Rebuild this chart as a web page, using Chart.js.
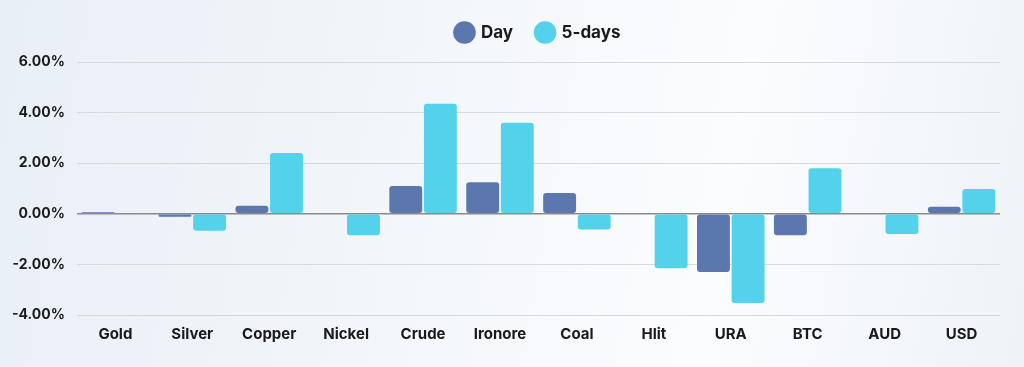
<!DOCTYPE html>
<html>
<head>
<meta charset="utf-8">
<script src="https://cdn.jsdelivr.net/npm/chart.js@4"></script>
<style>
  html, body { margin: 0; padding: 0; }
  body {
    width: 1024px; height: 367px; overflow: hidden;
    background: linear-gradient(100deg, #e8eff6 0%, #f4f7fb 45%, #fbfcfe 70%, #eef3f8 100%);
  }
  #wrap { position: relative; width: 1024px; height: 367px; }
</style>
</head>
<body>
<div id="wrap"><canvas id="commodityChart"></canvas></div>
<script>
const categories = ['Gold', 'Silver', 'Copper', 'Nickel', 'Crude', 'Ironore', 'Coal', 'Hlit', 'URA', 'BTC', 'AUD', 'USD'];
const dayValues = [0.06, -0.12, 0.32, 0, 1.1, 1.25, 0.82, 0, -2.3, -0.85, 0, 0.28];
const fiveDayValues = [0, -0.67, 2.4, -0.85, 4.35, 3.6, -0.62, -2.15, -3.53, 1.8, -0.8, 0.98];
const yTicks = [-4, -2, 0, 2, 4, 6];

const fontFamily = 'Inter, "Open Sans", sans-serif';

// extra room under the legend
const legendSpacer = {
    id: 'legendSpacer',
    beforeInit(chart) {
        const fit = chart.legend.fit;
        chart.legend.fit = function () {
            fit.bind(chart.legend)();
            this.height += 11;
        };
    },
};

const ctx = document.getElementById('commodityChart');
new Chart(ctx, {
    type: 'bar',
    data: {
        labels: categories,
        datasets: [
            {
                label: 'Day',
                data: dayValues,
                backgroundColor: '#5b77ad',
                borderRadius: 3,
                borderSkipped: false,
            },
            {
                label: '5-days',
                data: fiveDayValues,
                backgroundColor: '#54d2ec',
                borderRadius: 3,
                borderSkipped: false,
            },
        ],
    },
    options: {
        responsive: true,
        maintainAspectRatio: false,
        animation: false,
        datasets: { bar: { categoryPercentage: 0.9, barPercentage: 0.95 } },
        layout: { padding: { left: 0, right: 24, top: 0, bottom: 14 } },
        plugins: {
            legend: {
                position: 'top',
                fullSize: false,
                labels: {
                    usePointStyle: true,
                    pointStyle: 'circle',
                    boxWidth: 16,
                    boxHeight: 16,
                    padding: 24,
                    color: '#1a1a1a',
                    font: { family: fontFamily, size: 17, weight: 'bold' },
                },
            },
            tooltip: { enabled: false },
        },
        scales: {
            x: {
                grid: { display: false, drawTicks: false },
                border: { display: false },
                ticks: {
                    color: '#1a1a1a',
                    padding: 10,
                    font: { family: fontFamily, size: 15, weight: 'bold' },
                },
            },
            y: {
                min: -4,
                max: 6,
                afterBuildTicks: (axis) => {
                    axis.ticks = yTicks.map((v) => ({ value: v }));
                },
                grid: {
                    drawTicks: false,
                    color: (c) => (c.tick && c.tick.value === 0 ? '#8a8a8a' : '#d6d9dd'),
                    lineWidth: (c) => (c.tick && c.tick.value === 0 ? 1.5 : 1),
                },
                border: { display: false },
                ticks: {
                    color: '#1a1a1a',
                    padding: 12,
                    font: { family: fontFamily, size: 14, weight: 'bold' },
                    callback: (v) => v.toFixed(2) + '%',
                },
            },
        },
    },
    plugins: [legendSpacer],
});
</script>
</body>
</html>
